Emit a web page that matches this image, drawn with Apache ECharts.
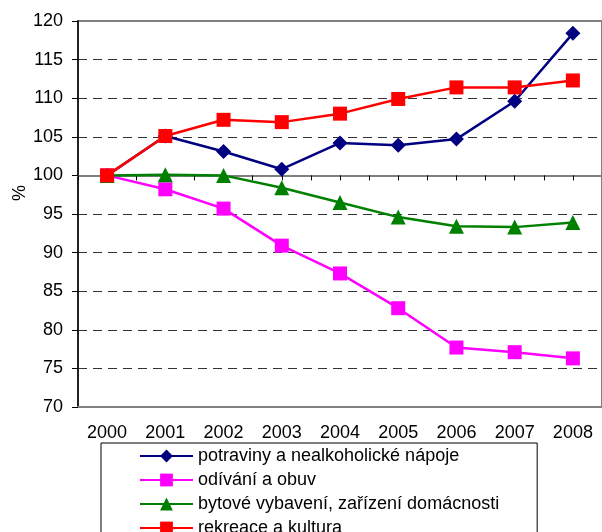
<!DOCTYPE html>
<html>
<head>
<meta charset="utf-8">
<script src="https://cdn.jsdelivr.net/npm/echarts@6/dist/echarts.min.js"></script>
<style>
  html, body { margin: 0; padding: 0; background: #fff; }
  #chart { width: 602px; height: 532px; }
</style>
</head>
<body>
<div id="chart"></div>
<script>
// roky a indexy (2000 = 100)
var years = ['2000', '2001', '2002', '2003', '2004', '2005', '2006', '2007', '2008'];
var names = ['potraviny a nealkoholické nápoje', 'odívání a obuv', 'bytové vybavení, zařízení domácnosti', 'rekreace a kultura'];
var potraviny = [100, 105.1, 103.1, 100.8, 104.2, 103.9, 104.7, 109.6, 118.4];
var odivani   = [100, 98.2, 95.7, 90.9, 87.3, 82.8, 77.7, 77.1, 76.3];
var bytove    = [100, 100.1, 100.0, 98.4, 96.5, 94.6, 93.4, 93.3, 93.9];
var rekreace  = [100, 105.1, 107.2, 106.9, 108.0, 109.9, 111.4, 111.4, 112.3];
var yTicks = [70, 120, 5];   // min, max, krok

var font = 'Liberation Sans, Arial, sans-serif';
var colors = ['#000080', '#FF00FF', '#008000', '#FF0000'];
var symbols = ['diamond', 'rect', 'triangle', 'rect'];
var sizes = [15, 14, 15, 14];
var values = [potraviny, odivani, bytove, rekreace];

var series = [];
for (var i = 0; i < names.length; i++) {
  series.push({
    name: names[i],
    type: 'line',
    data: values[i],
    symbol: symbols[i],
    symbolSize: sizes[i],
    showAllSymbol: true,
    color: colors[i],
    lineStyle: { width: 2.5, color: colors[i] },
    itemStyle: { color: colors[i] },
    z: 3 + i
  });
}

var myChart = echarts.init(document.getElementById('chart'));
var gridTop = 21, gridH = 386;
// poloha osy x na hodnote 100
var off100 = gridH * (100 - yTicks[0]) / (yTicks[1] - yTicks[0]);

var option = {
  animation: false,
  textStyle: { fontFamily: font },
  grid: {
    left: 78, top: gridTop, width: 526, height: gridH,
    show: true, borderColor: '#808080', borderWidth: 2
  },
  legend: {
    orient: 'vertical',
    left: 101, top: 443, height: 140,
    padding: [4, 38, 12, 38],
    borderColor: '#000', borderWidth: 1,
    itemWidth: 53, itemHeight: 16, itemGap: 6,
    textStyle: { fontFamily: font, fontSize: 18, color: '#000' },
    data: names
  },
  graphic: [{
    type: 'text', x: 20, y: 193, rotation: Math.PI / 2,
    style: { text: '%', font: '18px ' + font, fill: '#000', align: 'center', verticalAlign: 'middle' }
  }],
  xAxis: [{
    type: 'category',
    data: years,
    boundaryGap: true,
    axisLine: { lineStyle: { color: '#808080', width: 2 } },
    axisTick: { show: false },
    axisLabel: { color: '#000', fontSize: 18, margin: 17, interval: 0 },
    splitLine: { show: false }
  }, {
    // osa protinající hodnotu 100
    type: 'value',
    min: 0, max: 18, interval: 1,
    position: 'bottom',
    offset: -off100,
    axisLine: { onZero: false, lineStyle: { color: '#808080', width: 2 } },
    axisTick: { show: true, length: 5, lineStyle: { color: '#000', width: 1 } },
    axisLabel: { show: false },
    splitLine: { show: false }
  }],
  yAxis: {
    type: 'value',
    min: yTicks[0], max: yTicks[1], interval: yTicks[2],
    axisLine: { show: true, onZero: false, lineStyle: { color: '#222', width: 2 } },
    axisTick: { show: true, length: 6, lineStyle: { color: '#000', width: 1 } },
    axisLabel: { color: '#000', fontSize: 18, margin: 15 },
    splitLine: {
      show: true, showMinLine: false, showMaxLine: false,
      lineStyle: { color: '#333', width: 1, type: [9, 6] }
    }
  },
  series: series
};
myChart.setOption(option);
</script>
</body>
</html>
